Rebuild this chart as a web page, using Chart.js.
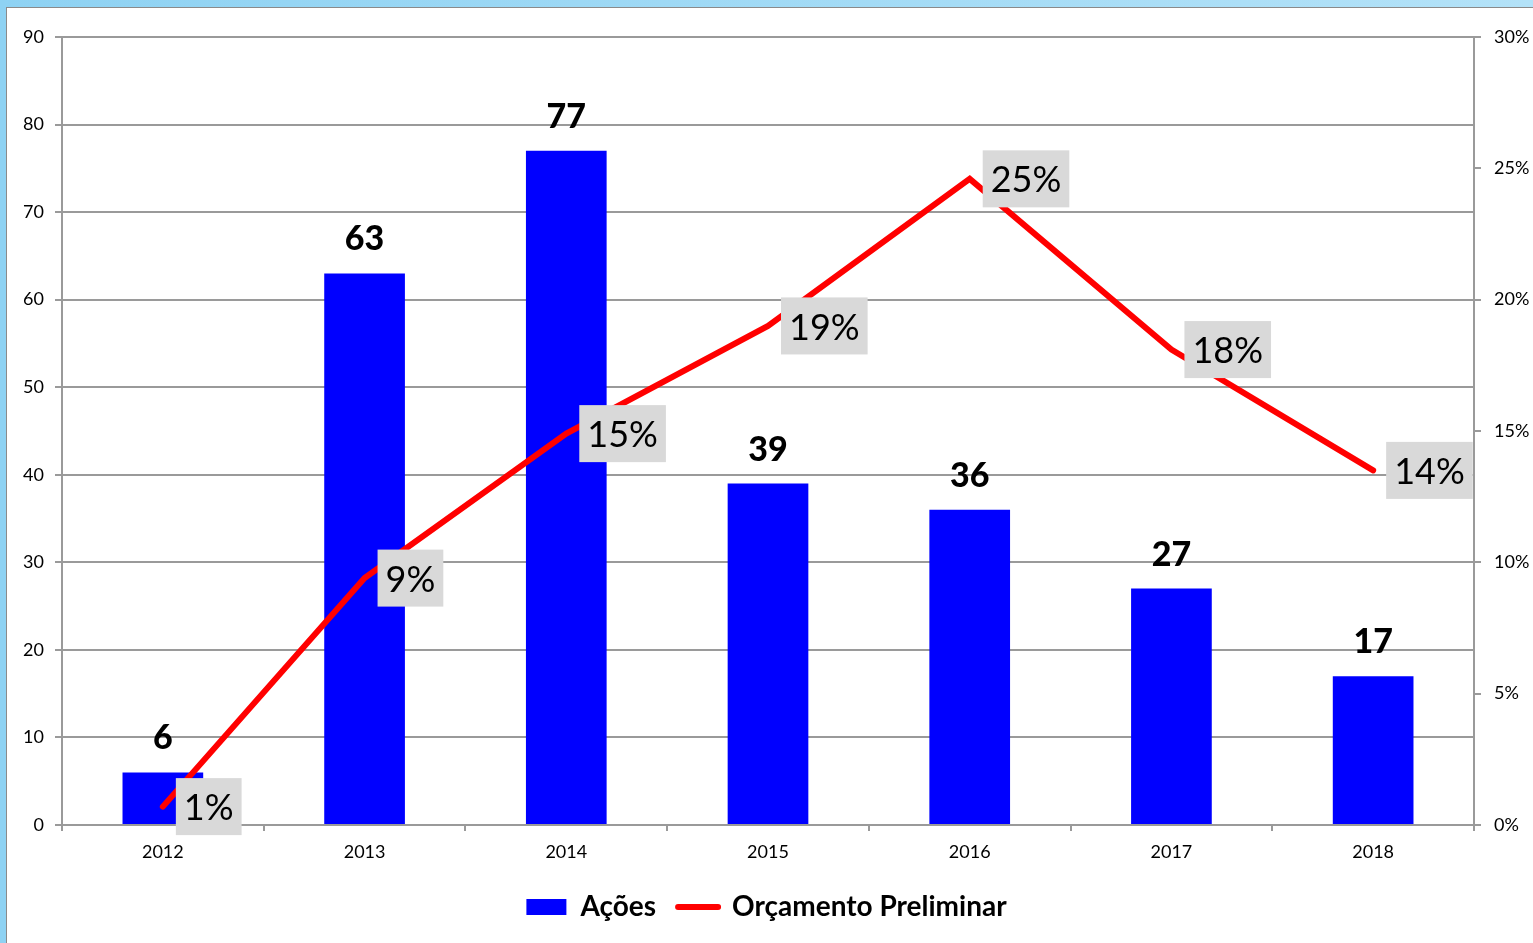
<!DOCTYPE html>
<html>
<head>
<meta charset="utf-8">
<script src="https://cdn.jsdelivr.net/npm/chart.js@4.4.1/dist/chart.umd.min.js"></script>
<style>
html,body{margin:0;padding:0;background:#fff;overflow:hidden;}
#frameTop{position:absolute;left:0;top:0;width:1533px;height:7px;background:linear-gradient(90deg,#8ed2f3,#b3e2f8);}
#frameLeft{position:absolute;left:0;top:0;width:6px;height:943px;background:#8ed2f3;}
#lineTop{position:absolute;left:6px;top:7px;width:1527px;height:1px;background:#8a8a8a;}
#lineLeft{position:absolute;left:6px;top:7px;width:1px;height:936px;background:#8a8a8a;}
canvas{position:absolute;left:0;top:0;}
</style>
</head>
<body>
<div id="frameTop"></div><div id="frameLeft"></div><div id="lineTop"></div><div id="lineLeft"></div>
<canvas id="c" width="1533" height="943"></canvas>
<script>
const categories = ['2012','2013','2014','2015','2016','2017','2018'];
const acoes = [6, 63, 77, 39, 36, 27, 17];
const orcamento = [0.7, 9.4, 14.9, 19.0, 24.6, 18.1, 13.5];
const orcamentoLabels = ['1%','9%','15%','19%','25%','18%','14%'];
const leftTicks = [0,10,20,30,40,50,60,70,80,90];
const rightTicks = ['0%','5%','10%','15%','20%','25%','30%'];

const FONT = 'Lato, "Open Sans", sans-serif';
const GRID = '#9a9a9a';

const labelPlugin = {
  id: 'valueLabels',
  afterDatasetsDraw(chart) {
    const ctx = chart.ctx;
    ctx.save();
    const barMeta = chart.getDatasetMeta(0);
    ctx.font = '900 34px ' + FONT;
    ctx.fillStyle = '#000';
    ctx.textAlign = 'center';
    ctx.textBaseline = 'middle';
    barMeta.data.forEach((el, i) => {
      ctx.fillText(String(acoes[i]), el.x, el.y - 34);
    });
    const lineMeta = chart.getDatasetMeta(1);
    ctx.font = '36px ' + FONT;
    ctx.textAlign = 'left';
    lineMeta.data.forEach((el, i) => {
      const t = orcamentoLabels[i];
      const w = ctx.measureText(t).width + 16;
      const h = 57;
      const bx = el.x + 13, by = el.y - h / 2;
      ctx.fillStyle = '#d9d9d9';
      ctx.fillRect(bx, by, w, h);
      ctx.fillStyle = '#000';
      ctx.fillText(t, bx + 8, el.y + 2);
    });
    ctx.restore();
  }
};

new Chart(document.getElementById('c'), {
  type: 'bar',
  data: {
    labels: categories,
    datasets: [
      {
        type: 'bar', label: 'Ações', data: acoes,
        backgroundColor: '#0000ff', borderWidth: 0,
        barPercentage: 0.4, categoryPercentage: 1.0,
        yAxisID: 'y', order: 2
      },
      {
        type: 'line', label: 'Orçamento Preliminar', data: orcamento,
        borderColor: '#ff0000', backgroundColor: '#ff0000', borderWidth: 6,
        pointRadius: 0, tension: 0, borderCapStyle: 'round', borderJoinStyle: 'miter',
        yAxisID: 'y1', order: 1
      }
    ]
  },
  options: {
    responsive: false,
    animation: false,
    devicePixelRatio: 1,
    layout: { padding: { top: 37, left: 0, right: 0, bottom: 12 } },
    plugins: {
      tooltip: { enabled: false },
      legend: {
        position: 'bottom',
        labels: {
          usePointStyle: true,
          pointStyleWidth: 40,
          boxHeight: 16,
          padding: 22,
          color: '#000',
          font: { family: FONT, size: 28, weight: 'bold' },
          generateLabels: () => [
            { text: 'Ações', fillStyle: '#0000ff', strokeStyle: '#0000ff', lineWidth: 0, pointStyle: 'rect', datasetIndex: 0, hidden: false, fontColor: '#000' },
            { text: 'Orçamento Preliminar', fillStyle: '#ff0000', strokeStyle: '#ff0000', lineWidth: 6, lineCap: 'round', pointStyle: 'line', datasetIndex: 1, hidden: false, fontColor: '#000' }
          ]
        }
      }
    },
    scales: {
      x: {
        type: 'category',
        offset: true,
        grid: { display: true, drawOnChartArea: false, drawTicks: true, tickLength: 6, color: GRID, lineWidth: 2, offset: true },
        border: { display: true, color: GRID, width: 2 },
        ticks: { color: '#000', font: { family: FONT, size: 18 }, padding: 10, maxRotation: 0 },
        afterFit(scale) { scale.height = 46; }
      },
      y: {
        position: 'left',
        min: 0, max: 90,
        afterBuildTicks(scale) { scale.ticks = leftTicks.map(v => ({ value: v })); },
        ticks: { color: '#000', font: { family: FONT, size: 18 }, padding: 11 },
        grid: { color: GRID, lineWidth: 2, tickLength: 7 },
        border: { display: true, color: GRID, width: 2 },
        afterFit(scale) { scale.width = 62; }
      },
      y1: {
        position: 'right',
        min: 0, max: 30,
        afterBuildTicks(scale) { scale.ticks = rightTicks.map(t => ({ value: parseFloat(t) })); },
        ticks: { color: '#000', font: { family: FONT, size: 18 }, padding: 13,
          callback: (v, i) => rightTicks[i] },
        grid: { drawOnChartArea: false, color: GRID, lineWidth: 2, tickLength: 7 },
        border: { display: true, color: GRID, width: 2 },
        afterFit(scale) { scale.width = 59; }
      }
    }
  },
  plugins: [labelPlugin]
});
</script>
</body>
</html>
